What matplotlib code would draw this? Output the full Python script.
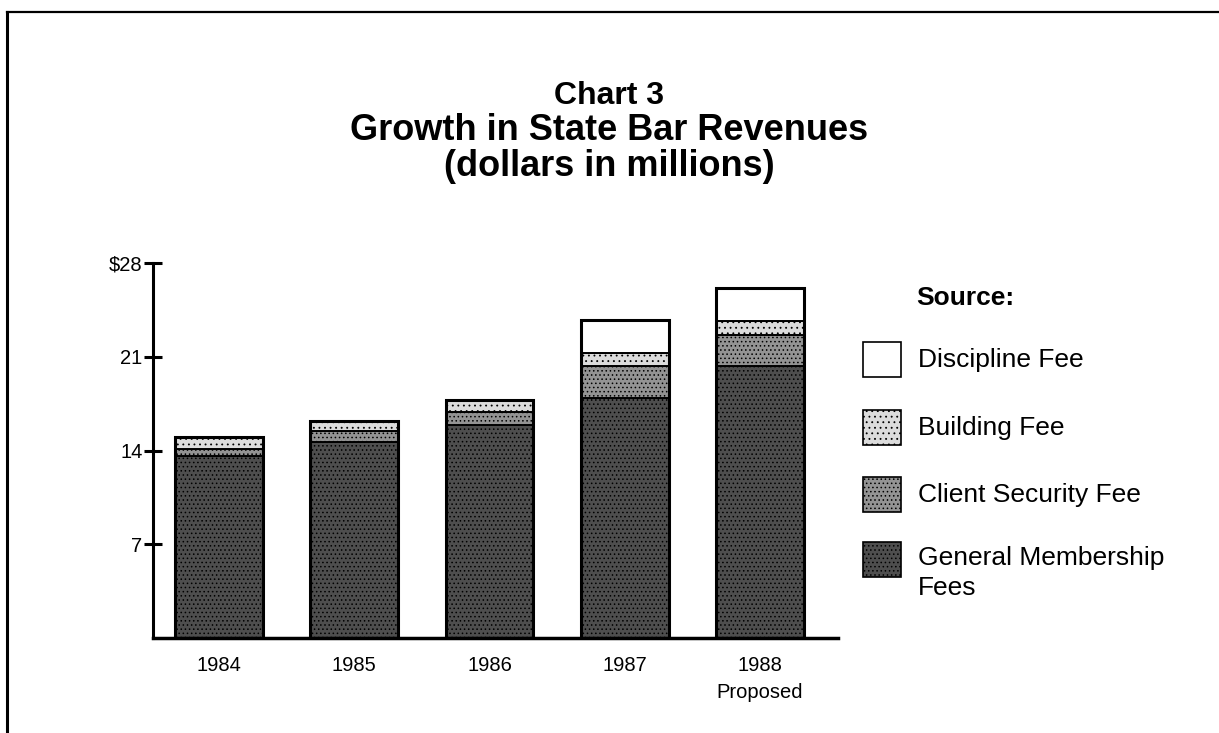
import numpy as np
import matplotlib
matplotlib.use('Agg')
import matplotlib.pyplot as plt
from matplotlib.patches import Rectangle
from matplotlib.lines import Line2D

years = ["1984", "1985", "1986", "1987", "1988\nProposed"]
general = [13.6, 14.6, 15.9, 17.9, 20.3]
client = [0.5, 0.85, 1.0, 2.4, 2.3]
building = [0.9, 0.75, 0.9, 1.0, 1.1]
discipline = [0.0, 0.0, 0.0, 2.45, 2.4]

series_names = ["Discipline Fee", "Building Fee", "Client Security Fee",
                "General Membership\nFees"]
y_ticks = [7, 14, 21, 28]
y_labels = ["7", "14", "21", "$28"]

plt.rcParams['font.family'] = ['Liberation Sans', 'DejaVu Sans']
plt.rcParams['hatch.linewidth'] = 0.6

styles = {
    "general": dict(facecolor="#4e4e4e", hatch="...."),
    "client": dict(facecolor="#939393", hatch="...."),
    "building": dict(facecolor="#dcdcdc", hatch="..."),
    "discipline": dict(facecolor="white", hatch=None),
}

fig = plt.figure(figsize=(12.19, 7.33), dpi=100)
ax = fig.add_axes([0.1255, 0.1296, 0.562, 0.5116])

x = np.arange(len(years))
bottom = np.zeros(len(years))
for key, vals in [("general", general), ("client", client),
                  ("building", building), ("discipline", discipline)]:
    vals = np.array(vals)
    ax.bar(x, vals, width=0.65, bottom=bottom, edgecolor="black",
           linewidth=1.4, **styles[key])
    bottom += vals
# heavy outline around each whole bar
ax.bar(x, bottom, width=0.65, facecolor="none", edgecolor="black", linewidth=2.2)

ax.set_xlim(-0.488, 4.577)
ax.set_ylim(0, 28)
ax.set_yticks(y_ticks)
ax.set_yticklabels(y_labels, fontsize=14.5)
ax.set_xticks(x)
ax.set_xticklabels(years, fontsize=14.5, linespacing=1.55)
ax.tick_params(axis="x", length=0, pad=13)
ax.tick_params(axis="y", direction="inout", length=13, width=2.2, pad=1)
for s in ["top", "right"]:
    ax.spines[s].set_visible(False)
ax.spines["left"].set_linewidth(2.2)
ax.spines["bottom"].set_linewidth(2.5)

W, H = 1219, 733
fig.text(0.5, 1 - 96 / H, "Chart 3", ha="center", va="center",
         fontsize=23, fontweight="bold")
fig.text(0.5, 1 - 131 / H, "Growth in State Bar Revenues", ha="center",
         va="center", fontsize=26, fontweight="bold")
fig.text(0.5, 1 - 167 / H, "(dollars in millions)", ha="center",
         va="center", fontsize=26, fontweight="bold")

# legend drawn by hand
fig.text(916 / W, 1 - 298 / H, "Source:", ha="left", va="center",
         fontsize=19, fontweight="bold")
legend_styles = [styles["discipline"], styles["building"], styles["client"],
                 styles["general"]]
legend_y = [360, 428, 495, 560]
for name, st, yy in zip(series_names, legend_styles, legend_y):
    fig.patches.append(Rectangle((863 / W, 1 - (yy + 17) / H), 38 / W, 35 / H,
                                 transform=fig.transFigure, edgecolor="black",
                                 linewidth=1.2, **st))
    if "\n" in name:
        fig.text(918 / W, 1 - (yy - 14) / H, name, ha="left", va="top",
                 fontsize=19, linespacing=1.3)
    else:
        fig.text(918 / W, 1 - yy / H, name, ha="left", va="center", fontsize=19)

# page frame lines (top and left)
fig.add_artist(Line2D([7 / W, 1], [1 - 12 / H, 1 - 12 / H], color="black", linewidth=1.6))
fig.add_artist(Line2D([7 / W, 7 / W], [0, 1 - 12 / H], color="black", linewidth=2.2))

plt.savefig("out.png", dpi=100)
plt.close()
